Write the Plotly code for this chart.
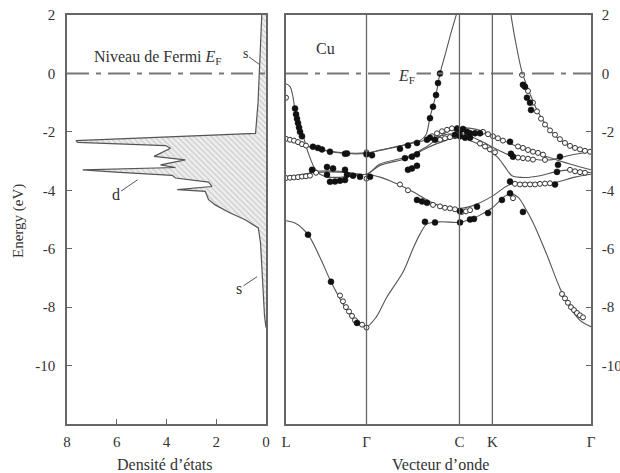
import plotly.graph_objects as go

W, H = 620, 473
FONT = "Liberation Serif"
LINE = "#555555"
AX = "#666666"

# ---------------- Density of states (left panel) ----------------
dos_E = [2.0, 0.0, -1.0, -2.05, -2.14, -2.30, -2.36, -2.47, -2.56, -2.70, -2.84, -2.96,
         -3.13, -3.22, -3.30, -3.38, -3.49, -3.58, -3.72, -3.87, -3.98, -4.04, -4.32,
         -4.50, -4.75, -5.01, -5.29, -5.8, -6.5, -7.6, -8.3, -8.7]
dos_D = [0.17, 0.25, 0.32, 0.42, 2.9, 7.64, 7.57, 4.04, 3.84, 4.17, 4.5, 3.24,
         4.24, 3.64, 7.37, 6.04, 3.77, 3.64, 2.31, 2.17, 3.57, 2.44, 2.31,
         2.04, 1.5, 0.84, 0.31, 0.22, 0.17, 0.11, 0.06, 0.0]
dos_ticks = [8, 6, 4, 2, 0]
energy_ticks = [2, 0, -2, -4, -6, -8, -10]
energy_labels = ["2", "0", "-2", "-4", "-6", "-8", "-10"]

# ---------------- Band structure (right panel) ----------------
kpath_pos = [0.0, 0.866, 1.866, 2.220, 3.281]
kpath_lbl = ["L", "Γ", "C", "K", "Γ"]

band_low_k = [0, 0.097, 0.237, 0.366, 0.484, 0.635, 0.764, 0.866, 0.968, 1.086, 1.259,
              1.366, 1.441, 1.517, 1.657, 1.866, 1.98, 2.087, 2.22, 2.356, 2.42, 2.50,
              2.571, 2.657, 2.74, 2.818, 2.947, 3.055, 3.163, 3.281]
band_low_E = [-5.04, -5.12, -5.52, -6.3, -7.13, -8.0, -8.54, -8.67, -8.35, -7.65, -6.8,
              -6.0, -5.5, -5.15, -5.08, -5.1, -5.0, -4.85, -4.6, -4.2, -4.12, -4.25,
              -4.6, -5.1, -5.7, -6.3, -7.35, -8.0, -8.45, -8.67]

band_c_k = [0, 0.043, 0.075, 0.097, 0.151, 0.172, 0.237, 0.301, 0.366, 0.46, 0.60, 0.75,
            0.866, 1.011, 1.173, 1.366, 1.624, 1.866, 2.033, 2.22, 2.41, 2.625, 2.872,
            3.109, 3.281]
band_c_E = [-0.35, -0.45, -0.8, -1.25, -1.85, -2.0, -2.7, -3.2, -3.45, -3.55, -3.55, -3.5,
            -3.45, -3.55, -3.75, -4.05, -4.5, -4.62, -4.5, -4.2, -3.8, -3.75, -3.75,
            -3.55, -3.45]

band_a_k = [0, 0.151, 0.333, 0.581, 0.866, 1.011, 1.302, 1.517, 1.657, 1.764, 1.866,
            2.087, 2.27, 2.442, 2.625, 2.808, 3.055, 3.281]
band_a_E = [-3.54, -3.5, -3.35, -3.35, -3.45, -3.1, -2.85, -2.5, -2.15, -1.95, -1.86,
            -1.95, -2.2, -2.44, -2.65, -2.85, -3.1, -3.3]

band_b_k = [0, 0.30, 0.58, 0.866, 1.011, 1.302, 1.517, 1.71, 1.866, 1.98, 2.119, 2.27,
            2.356, 2.431, 2.571, 2.732, 2.894, 3.055, 3.281]
band_b_E = [-3.56, -3.4, -3.38, -3.45, -3.15, -2.9, -2.55, -2.3, -2.17, -2.3, -2.5, -2.85,
            -3.2, -3.5, -3.56, -3.5, -3.37, -3.3, -3.4]

band_a2_k = [0, 0.194, 0.516, 0.866, 1.011, 1.280, 1.517, 1.71, 1.866, 1.98, 2.087, 2.27,
             2.442, 2.625, 2.84, 3.055, 3.281]
band_a2_E = [-2.2, -2.45, -2.68, -2.72, -2.64, -2.45, -2.27, -2.1, -2.05, -2.15, -2.3, -2.6,
             -2.85, -2.93, -2.96, -2.8, -2.68]

band_sp_k = [0, 0.194, 0.516, 0.866, 1.011, 1.226, 1.366, 1.441, 1.506, 1.549, 1.581,
             1.614, 1.635, 1.657, 1.721, 1.785, 1.850, 1.95, 2.22, 2.37, 2.42, 2.463,
             2.539, 2.625, 2.70, 2.84, 2.947, 3.109, 3.281]
band_sp_E = [-2.22, -2.47, -2.7, -2.74, -2.62, -2.48, -2.36, -2.3, -2.1, -1.5, -1.12,
             -0.72, -0.35, 0.0, 0.75, 1.5, 2.2, 3.3, 4.5, 3.0, 2.0, 1.2,
             0.05, -0.7, -1.25, -1.95, -2.27, -2.55, -2.68]

# experimental points (filled symbols)
exp_fill_k = [0.097, 0.108, 0.118, 0.129, 0.140, 0.151, 0.172, 0.290, 0.344, 0.387, 0.473,
              0.635, 0.656, 0.866, 0.925, 0.280, 0.441, 0.506, 0.635, 0.656, 0.721, 0.473,
              0.527, 0.581, 0.635, 0.796, 0.904, 0.441, 0.237, 0.484, 0.764,
              1.226, 1.312, 1.409, 1.517, 1.280, 1.355, 1.409, 1.312, 1.355, 1.409, 1.409,
              1.463, 1.517, 1.495, 1.603, 1.549, 1.581, 1.614, 1.635, 1.657, 1.549, 1.603,
              1.840, 1.872, 1.904, 1.947, 1.980, 1.872, 1.926, 1.980, 2.033, 2.087, 1.818,
              2.410, 2.442, 2.420, 2.947, 2.926, 2.915, 2.894, 2.549, 2.571, 2.592, 2.625,
              2.636, 2.410, 2.549, 2.173, 2.323, 2.055, 1.872, 1.872, 1.980, 2.022, 2.410]
exp_fill_E = [-1.2, -1.4, -1.55, -1.7, -1.85, -2.0, -2.15, -2.51, -2.55, -2.6, -2.68,
              -2.75, -2.74, -2.77, -2.8, -3.3, -3.2, -3.25, -3.3, -3.47, -3.5, -3.71,
              -3.7, -3.67, -3.65, -3.54, -3.54, -3.47, -5.52, -7.13, -8.54,
              -2.58, -2.47, -2.38, -2.27, -2.9, -2.85, -2.77, -3.3, -3.25, -3.16, -4.33,
              -4.38, -4.43, -5.08, -5.1, -1.53, -1.14, -0.74, -0.33, 0.0, -2.2, -2.27,
              -1.9, -1.95, -1.9, -2.0, -2.05, -2.15, -2.2, -2.2, -2.05, -2.05, -2.1,
              -2.34, -2.85, -2.75, -2.85, -3.13, -3.37, -3.8, -0.39, -0.46, -0.83, -1.0,
              -1.25, -4.1, -4.74, -4.78, -4.33, -4.56, -4.72, -5.1, -5.0, -4.98, -3.7]

# experimental points (open symbols)
exp_open_k = [0, 0, 0.043, 0.086, 0.129, 0.172, 0.215, 0, 0.043, 0.086, 0.129, 0.172, 0.215,
              0.258, 0.866, 0.866, 0.323, 0.581, 0.613, 0.645, 0.678, 0.710, 0.742, 0.818,
              0.866, 1.226, 1.312, 1.581, 1.657, 1.710, 1.764, 1.818, 1.571, 1.624, 1.678,
              1.732, 1.785, 1.840, 1.657, 1.710, 1.764, 1.818, 2.119, 2.173, 2.227, 2.280,
              2.334, 2.496, 2.549, 2.603, 2.657, 2.711, 2.765, 2.087, 2.141, 2.194, 2.248,
              2.496, 2.549, 2.603, 2.657, 2.786, 2.463, 2.517, 2.571, 2.625, 2.679, 2.732,
              2.786, 2.840, 2.539, 2.603, 2.657, 2.700, 2.743, 2.786, 2.840, 2.894, 2.947,
              3.001, 3.055, 3.109, 3.163, 3.216, 3.270, 3.055, 3.109, 3.163, 3.216, 1.893,
              1.936, 1.980, 2.969, 3.001, 3.033, 3.066, 3.098, 3.130, 3.163, 3.195, 2.442]
exp_open_E = [-0.83, -2.24, -2.27, -2.3, -2.35, -2.42, -2.47, -3.58, -3.57, -3.56, -3.55,
              -3.53, -3.52, -3.5, -2.7, -3.6, -3.4, -7.6, -7.8, -8.0, -8.15, -8.3, -8.45,
              -8.6, -8.7, -3.8, -4.0, -4.5, -4.55, -4.6, -4.62, -4.65, -2.15, -2.05, -1.98,
              -1.93, -1.88, -1.87, -2.27, -2.22, -2.18, -2.15, -2.0, -2.08, -2.15, -2.22,
              -2.3, -2.5, -2.55, -2.62, -2.68, -2.72, -2.78, -2.4, -2.5, -2.6, -2.7,
              -2.88, -2.9, -2.92, -2.95, -2.96, -3.78, -3.8, -3.8, -3.8, -3.8, -3.78,
              -3.77, -3.76, -0.05, -0.6, -1.0, -1.3, -1.55, -1.75, -1.95, -2.1, -2.25,
              -2.38, -2.48, -2.55, -2.6, -2.65, -2.68, -3.3, -3.35, -3.38, -3.4, -4.74,
              -4.72, -4.68, -7.55, -7.7, -7.85, -8.0, -8.1, -8.2, -8.28, -8.35, -4.27]

bands = [(band_low_k, band_low_E), (band_c_k, band_c_E), (band_a_k, band_a_E),
         (band_b_k, band_b_E), (band_a2_k, band_a2_E), (band_sp_k, band_sp_E)]

fig = go.Figure()

fig.add_trace(go.Scatter(
    x=dos_D, y=dos_E, mode="lines", xaxis="x", yaxis="y",
    line=dict(color=LINE, width=1.2), fill="tozerox",
    fillcolor="rgba(200,200,200,0.35)",
    fillpattern=dict(shape="\\", fgcolor="#9a9a9a", bgcolor="#eeeeee", size=4, solidity=0.25),
    showlegend=False, hoverinfo="skip"))

for bk, be in bands:
    fig.add_trace(go.Scatter(
        x=bk, y=be, mode="lines", xaxis="x2", yaxis="y2",
        line=dict(color=LINE, width=1.1, shape="spline", smoothing=0.9),
        showlegend=False, hoverinfo="skip"))

fig.add_trace(go.Scatter(
    x=exp_open_k, y=exp_open_E, mode="markers", xaxis="x2", yaxis="y2",
    marker=dict(symbol="circle", size=5, color="white", line=dict(color="#333", width=1)),
    showlegend=False, hoverinfo="skip"))
fig.add_trace(go.Scatter(
    x=exp_fill_k, y=exp_fill_E, mode="markers", xaxis="x2", yaxis="y2",
    marker=dict(symbol="circle", size=6, color="#111", line=dict(color="#111", width=0.5)),
    showlegend=False, hoverinfo="skip"))

tickfont = dict(family=FONT, size=15, color="#333")
common = dict(showgrid=False, zeroline=False, showline=True, mirror=True, automargin=False,
              linecolor=AX, linewidth=1.5, tickfont=tickfont, tickcolor=AX)

ydom = [1 - 424 / H, 1 - 15 / H]
fig.update_layout(
    width=W, height=H, margin=dict(l=0, r=0, t=0, b=0, autoexpand=False),
    paper_bgcolor="white", plot_bgcolor="white",
    font=dict(family=FONT, color="#333"),
    xaxis=dict(domain=[67 / W, 266 / W], range=[8, 0], anchor="y",
               tickvals=dos_ticks, ticktext=[str(v) for v in dos_ticks],
               ticks="inside", ticklen=5, ticklabelstandoff=3, **common),
    yaxis=dict(domain=ydom, range=[-12, 2], anchor="x",
               tickvals=energy_ticks, ticktext=energy_labels,
               ticks="inside", ticklen=5, ticklabelstandoff=7, **common),
    xaxis2=dict(domain=[286 / W, 591 / W], range=[kpath_pos[0], kpath_pos[-1]], anchor="y2",
                tickvals=kpath_pos, ticktext=kpath_lbl, ticks="", ticklabelstandoff=3, **common),
    yaxis2=dict(domain=ydom, range=[-12, 2], anchor="x2", side="right",
                tickvals=energy_ticks, ticktext=energy_labels,
                ticks="inside", ticklen=5, ticklabelstandoff=6, **common),
)

# Fermi level lines
dash = "22px,7px,5px,7px"
fig.add_shape(type="line", xref="x", yref="y", x0=dos_ticks[0], x1=dos_ticks[-1], y0=0, y1=0,
              line=dict(color="#777", width=2, dash=dash))
fig.add_shape(type="line", xref="x2", yref="y2", x0=kpath_pos[0], x1=kpath_pos[-1], y0=0, y1=0,
              line=dict(color="#777", width=2, dash=dash))
# symmetry point verticals
for kv in kpath_pos[1:-1]:
    fig.add_shape(type="line", xref="x2", yref="y2 domain", x0=kv, x1=kv, y0=0, y1=1,
                  line=dict(color=AX, width=1.3))

af = dict(family=FONT, size=16, color="#333")
fig.add_annotation(x=4.36, y=0.56, xref="x", yref="y", showarrow=False, font=af,
                   text="Niveau de Fermi <i>E</i><sub>F</sub>")
fig.add_annotation(x=0.24, y=0.29, xref="x", yref="y", text="s", font=dict(family=FONT, size=14, color="#333"),
                   showarrow=True, arrowhead=0, arrowwidth=1, arrowcolor="#555", ax=-15, ay=-11, standoff=0)
fig.add_annotation(x=5.16, y=-3.64, xref="x", yref="y", text="d", font=af,
                   showarrow=True, arrowhead=0, arrowwidth=1, arrowcolor="#555", ax=-22, ay=15, standoff=0)
fig.add_annotation(x=0.36, y=-6.96, xref="x", yref="y", text="s", font=af,
                   showarrow=True, arrowhead=0, arrowwidth=1, arrowcolor="#555", ax=-18, ay=12, standoff=0)
fig.add_annotation(x=0.42, y=0.87, xref="x2", yref="y2", text="Cu", showarrow=False, font=af)
fig.add_annotation(x=1.30, y=-0.12, xref="x2", yref="y2", text="<i>E</i><sub>F</sub>", showarrow=False,
                   font=af, bgcolor="white")

fig.add_annotation(x=19 / W, y=1 - 221 / H, xref="paper", yref="paper", text="Energy (eV)",
                   xanchor="center", yanchor="middle",
                   textangle=-90, showarrow=False, font=dict(family=FONT, size=15, color="#333"))
fig.add_annotation(x=165 / W, y=1 - 464 / H, xref="paper", yref="paper", text="Densité d’états",
                   xanchor="center", yanchor="middle", showarrow=False, font=af)
fig.add_annotation(x=440 / W, y=1 - 464 / H, xref="paper", yref="paper", text="Vecteur d’onde",
                   xanchor="center", yanchor="middle", showarrow=False, font=af)

fig.write_html("out.html", config={"displayModeBar": False},
               post_script="document.body.style.margin='0';document.body.style.overflow='hidden';")
